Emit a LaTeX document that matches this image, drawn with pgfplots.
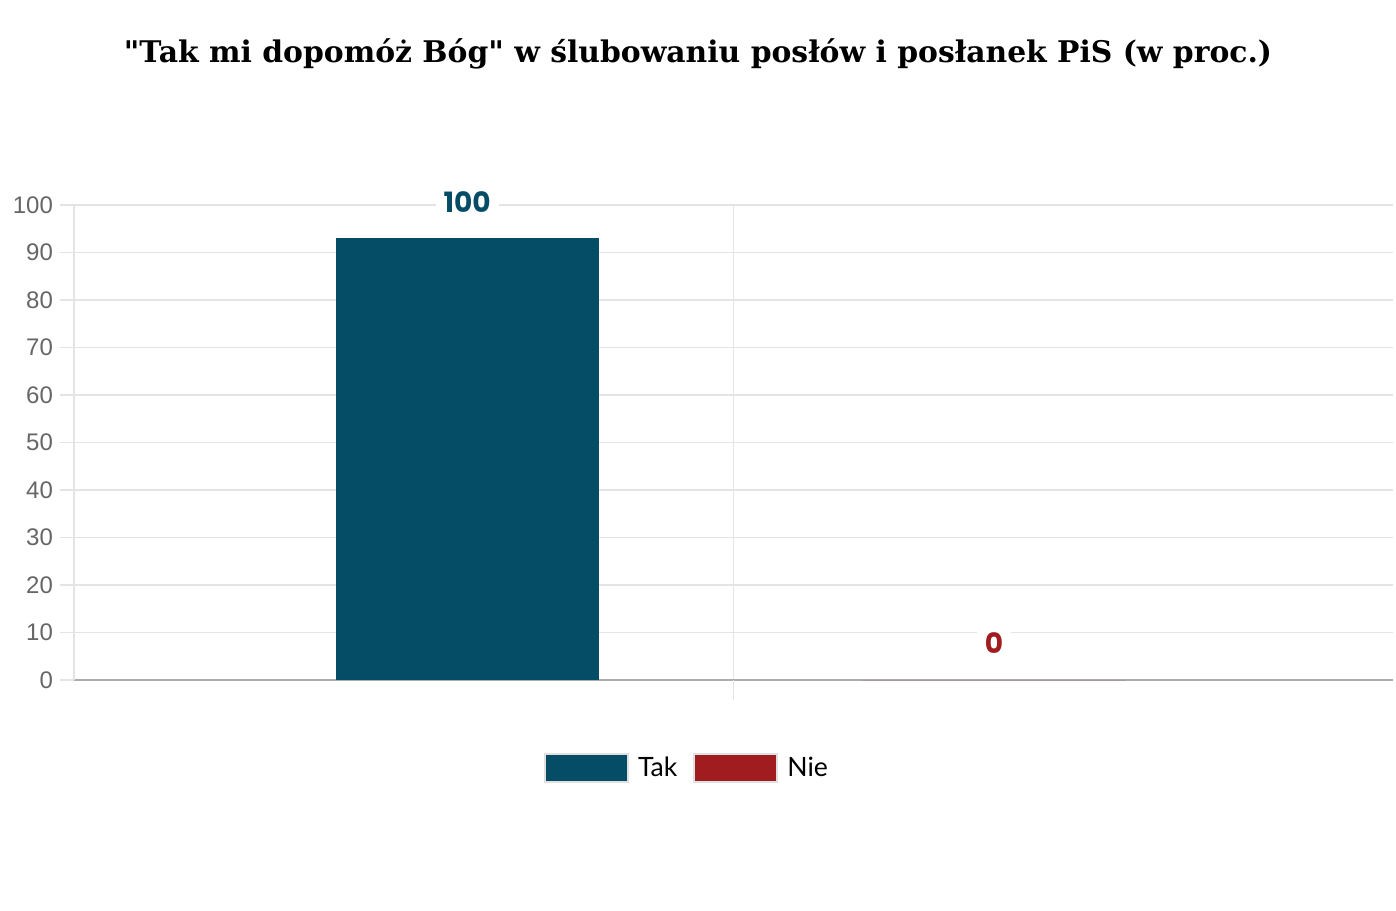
\documentclass[border=0pt]{standalone}
\usepackage{pgfplots}
\pgfplotsset{compat=1.18}
\usepackage{fontspec}
\setmainfont{Liberation Sans}
\newfontfamily\titlefont{DejaVu Serif}
\newfontfamily\labelfont{Poppins}
\newfontfamily\legfont{Lato}
\definecolor{takc}{HTML}{054C66}
\definecolor{niec}{HTML}{A01C1F}
\definecolor{gridc}{HTML}{E4E4E4}
\definecolor{tickc}{HTML}{666666}
\begin{document}
\begin{tikzpicture}[x=1pt,y=1pt]
\path[use as bounding box] (0,0) rectangle (698,455);
\node[font=\titlefont\bfseries\fontsize{14.9}{16}\selectfont, text=black] at (349,428) {"Tak mi dopomóż Bóg" w ślubowaniu posłów i posłanek PiS (w proc.)};
\begin{axis}[
  at={(37pt,115pt)}, anchor=south west,
  scale only axis, width=659.5pt, height=237.5pt,
  xmin=-0.5, xmax=1.5, ymin=0, ymax=100,
  axis x line*=bottom, axis y line*=left,
  x axis line style={draw=black!33, line width=1pt},
  y axis line style={draw=gridc, line width=0.6pt},
  xtick={0.5}, xticklabels={},
  ytick={0,10,...,100},
  xmajorgrids, ymajorgrids,
  grid style={draw=gridc, line width=0.8pt},
  major tick length=7pt,
  tick align=outside,
  xtick style={draw=none},
  ytick style={draw=gridc, line width=0.8pt},
  yticklabel style={font=\fontsize{12}{14}\selectfont, text=tickc, xshift=0pt},
  /pgf/number format/assume math mode=true,
  ybar, bar width=131.5pt, bar shift=0pt,
  legend columns=2,
  legend style={at={(0.4655,-0.185)}, anchor=center, draw=none, fill=none,
    font=\legfont\fontsize{13.3}{15}\selectfont,
    /tikz/every even column/.append style={column sep=6pt}},
  legend image code/.code={\draw[#1, draw=black!12, line width=1pt] (0pt,-7pt) rectangle (41.5pt,7pt); \path (44.5pt,0pt);},
  clip=false,
]
\addplot[fill=takc, draw=none] coordinates {(0.096,93)};
\addlegendentry{Tak}
\addplot[fill=niec, draw=none] coordinates {(0.895,0)};
\addlegendentry{Nie}
\draw[gridc, line width=0.6pt] (axis cs:0.5,0) -- ([yshift=-10pt]axis cs:0.5,0);
\node[fill=white, inner xsep=4pt, inner ysep=1pt, text=takc, font=\labelfont\bfseries\fontsize{14}{16}\selectfont] at (axis cs:0.096,100.6) {100};
\node[fill=white, inner xsep=4pt, inner ysep=1pt, text=niec, font=\labelfont\bfseries\fontsize{14}{16}\selectfont] at (axis cs:0.895,7.8) {0};
\end{axis}
\end{tikzpicture}
\end{document}
